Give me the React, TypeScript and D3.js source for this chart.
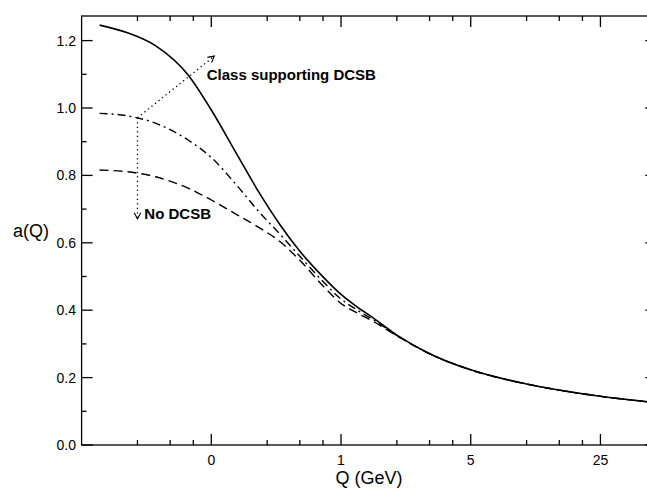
import React from "react";
import * as d3 from "d3";

// ---- data ----
const qValues = [0.05, 0.07, 0.1, 0.15, 0.2, 0.27, 0.36, 0.47, 0.6, 0.8, 1, 1.2, 1.5, 2, 3, 5, 10, 20, 50];
const solidSeries = [1.246, 1.224, 1.185, 1.098, 0.994, 0.87, 0.751, 0.653, 0.575, 0.499, 0.447, 0.413, 0.376, 0.326, 0.271, 0.223, 0.181, 0.152, 0.1255];
const dashDotSeries = [0.984, 0.977, 0.955, 0.905, 0.853, 0.775, 0.693, 0.625, 0.56, 0.485, 0.433, 0.403, 0.371, 0.325, 0.271, 0.223, 0.181, 0.152, 0.1255];
const dashedSeries = [0.816, 0.811, 0.796, 0.762, 0.727, 0.686, 0.646, 0.603, 0.548, 0.472, 0.42, 0.394, 0.366, 0.324, 0.271, 0.223, 0.181, 0.152, 0.1255];

const xMajorTicks = [0.2, 1, 5, 25];
const xTickLabels = ["0", "1", "5", "25"];
const xMinorTicks = [0.08, 0.12, 0.16, 0.4, 0.6, 0.8, 2, 3, 4, 10, 15, 20];
const yMajorTicks = [0, 0.2, 0.4, 0.6, 0.8, 1.0, 1.2];
const yMinorTicks = [0.1, 0.3, 0.5, 0.7, 0.9, 1.1];

// annotation anchors in data coordinates
const annJunction = { q: 0.08, a: 0.971 };
const annUpTip = { q: 0.2076, a: 1.154 };
const annDownTip = { q: 0.08, a: 0.671 };
const annUpLabel = { q: 0.189, a: 1.082, text: "Class supporting DCSB" };
const annDownLabel = { q: 0.0871, a: 0.671, text: "No DCSB" };

const W = 647;
const H = 488;
const FONT = "'Liberation Sans', Arial, Helvetica, sans-serif";

export default function App() {
  const left = 81.6, right = 656.3, top = 16, bottom = 445;
  const x = d3.scaleLog().base(5).domain([0.04, 50]).range([left, right]);
  const y = d3.scaleLinear().domain([0, 1.273]).range([bottom, top]);

  const mk = (vals: number[]) =>
    d3
      .line<number>()
      .x((_, i) => x(qValues[i]))
      .y((v) => y(v))
      .curve(d3.curveMonotoneX)(vals) || "";

  const arrowHead = (from: { q: number; a: number }, tip: { q: number; a: number }) => {
    const x0 = x(from.q), y0 = y(from.a), x1 = x(tip.q), y1 = y(tip.a);
    const ang = Math.atan2(y1 - y0, x1 - x0);
    const L = 7, h = (28 * Math.PI) / 180;
    const p1 = [x1 - L * Math.cos(ang - h), y1 - L * Math.sin(ang - h)];
    const p2 = [x1 - L * Math.cos(ang + h), y1 - L * Math.sin(ang + h)];
    return `M${p1[0]},${p1[1]}L${x1},${y1}L${p2[0]},${p2[1]}`;
  };

  const axisStroke = { stroke: "#000", strokeWidth: 1.3, fill: "none" } as const;

  return (
    <svg width={W} height={H} style={{ position: "absolute", left: 0, top: 0, background: "#fff" }}>
      <defs>
        <clipPath id="plot">
          <rect x={left} y={top} width={right - left} height={bottom - top} />
        </clipPath>
      </defs>

      {/* frame */}
      <rect x={left} y={top} width={right - left} height={bottom - top} {...axisStroke} />

      {/* x ticks bottom & top */}
      {xMajorTicks.map((t) => (
        <g key={"xM" + t}>
          <line x1={x(t)} x2={x(t)} y1={bottom} y2={bottom - 11} {...axisStroke} />
          <line x1={x(t)} x2={x(t)} y1={top} y2={top + 11} {...axisStroke} />
        </g>
      ))}
      {xMinorTicks.map((t) => (
        <g key={"xm" + t}>
          <line x1={x(t)} x2={x(t)} y1={bottom} y2={bottom - 5} {...axisStroke} />
          <line x1={x(t)} x2={x(t)} y1={top} y2={top + 5} {...axisStroke} />
        </g>
      ))}
      {xMajorTicks.map((t, i) => (
        <text key={"xl" + t} x={x(t)} y={465} textAnchor="middle" fontFamily={FONT} fontSize={14}>
          {xTickLabels[i]}
        </text>
      ))}

      {/* y ticks left & right */}
      {yMajorTicks.map((t) => (
        <g key={"yM" + t}>
          <line x1={left} x2={left + 11} y1={y(t)} y2={y(t)} {...axisStroke} />
          <line x1={right} x2={right - 11} y1={y(t)} y2={y(t)} {...axisStroke} />
        </g>
      ))}
      {yMinorTicks.map((t) => (
        <g key={"ym" + t}>
          <line x1={left} x2={left + 5} y1={y(t)} y2={y(t)} {...axisStroke} />
          <line x1={right} x2={right - 5} y1={y(t)} y2={y(t)} {...axisStroke} />
        </g>
      ))}
      {yMajorTicks.map((t) => (
        <text key={"yl" + t} x={76} y={y(t)} dy="0.36em" textAnchor="end" fontFamily={FONT} fontSize={14}>
          {d3.format(".1f")(t)}
        </text>
      ))}

      {/* axis titles */}
      <text x={(left + right) / 2} y={484} textAnchor="middle" fontFamily={FONT} fontSize={18}>
        Q (GeV)
      </text>
      <text x={49} y={237} textAnchor="end" fontFamily={FONT} fontSize={18}>
        a(Q)
      </text>

      {/* curves */}
      <g clipPath="url(#plot)" fill="none" stroke="#000">
        <path d={mk(dashedSeries)} strokeWidth={1.4} strokeDasharray="9,5" />
        <path d={mk(dashDotSeries)} strokeWidth={1.4} strokeDasharray="8,4,2,4" />
        <path d={mk(solidSeries)} strokeWidth={1.6} />
      </g>

      {/* annotations */}
      <g fill="none" stroke="#000" strokeWidth={1.3}>
        <line
          x1={x(annJunction.q)} y1={y(annJunction.a)} x2={x(annUpTip.q)} y2={y(annUpTip.a)}
          strokeDasharray="1.3,3.2"
        />
        <line
          x1={x(annJunction.q)} y1={y(annJunction.a)} x2={x(annDownTip.q)} y2={y(annDownTip.a)}
          strokeDasharray="1.3,3.2"
        />
        <path d={arrowHead(annJunction, annUpTip)} strokeWidth={1.1} />
        <path d={arrowHead(annJunction, annDownTip)} strokeWidth={1.1} />
      </g>
      <text x={x(annUpLabel.q)} y={y(annUpLabel.a)} fontFamily={FONT} fontSize={15} fontWeight="bold">
        {annUpLabel.text}
      </text>
      <text x={x(annDownLabel.q)} y={y(annDownLabel.a)} fontFamily={FONT} fontSize={15} fontWeight="bold">
        {annDownLabel.text}
      </text>
    </svg>
  );
}
